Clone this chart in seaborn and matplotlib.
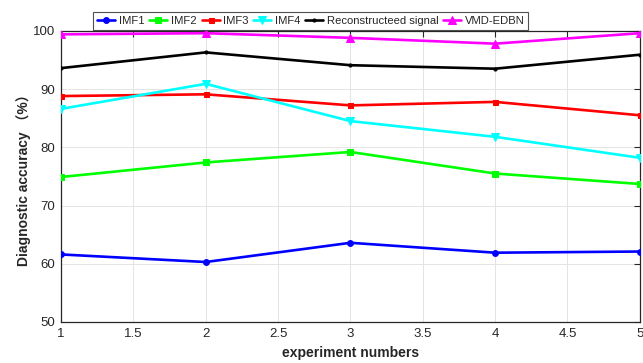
import matplotlib
matplotlib.use("Agg")
import matplotlib.pyplot as plt
from matplotlib.ticker import FormatStrFormatter, MultipleLocator
import numpy as np
import pandas as pd
import seaborn as sns

# Diagnostic accuracy (%) for each experiment run
experiments = [1, 2, 3, 4, 5]
imf1 = [61.6, 60.3, 63.6, 61.9, 62.1]
imf2 = [74.9, 77.4, 79.2, 75.5, 73.7]
imf3 = [88.8, 89.1, 87.2, 87.8, 85.5]
imf4 = [86.6, 90.9, 84.5, 81.8, 78.2]
reconstructed = [93.6, 96.3, 94.1, 93.5, 95.9]
vmd_edbn = [99.4, 99.6, 98.8, 97.8, 99.6]

series_names = ["IMF1", "IMF2", "IMF3", "IMF4", "Reconstructeed signal", "VMD-EDBN"]
series_values = [imf1, imf2, imf3, imf4, reconstructed, vmd_edbn]

colors = ["#0000ff", "#00ff00", "#ff0000", "#00ffff", "#000000", "#ff00ff"]
markers = ["o", "s", "s", "v", ".", "^"]
marker_sizes = [4.2, 4.2, 3.6, 6, 4.5, 6]

df = pd.DataFrame({
    "experiment": np.tile(experiments, len(series_names)),
    "accuracy": np.concatenate(series_values),
    "series": np.repeat(series_names, len(experiments)),
})

sns.set_theme(style="white")
plt.rcParams["font.family"] = ["Liberation Sans", "Noto Sans CJK SC", "DejaVu Sans"]

fig = plt.figure(figsize=(6.43, 3.63), dpi=100)
ax = fig.add_axes([0.095, 0.113, 0.9, 0.802])

for name, col, mk, ms in zip(series_names, colors, markers, marker_sizes):
    sub = df[df["series"] == name]
    sns.lineplot(data=sub, x="experiment", y="accuracy", ax=ax, color=col,
                 marker=mk, markersize=ms, markeredgecolor=col, linewidth=1.9,
                 label=name, zorder=3)

ax.set_xlim(1, 5)
ax.set_ylim(50, 100)
ax.xaxis.set_major_locator(MultipleLocator(0.5))
ax.yaxis.set_major_locator(MultipleLocator(10))
ax.xaxis.set_major_formatter(FormatStrFormatter("%g"))
ax.grid(True, color="#e4e4e4", linewidth=0.7, linestyle="-")
ax.set_axisbelow(True)

for sp in ax.spines.values():
    sp.set_color("#262626")
    sp.set_linewidth(0.9)
ax.tick_params(direction="in", top=True, right=True, length=4, width=0.8,
               colors="#262626", labelsize=9.5, pad=4)

ax.set_xlabel("experiment numbers", fontsize=10, fontweight="bold", color="#262626", labelpad=5)
ax.set_ylabel("Diagnostic accuracy （%）", fontsize=10, fontweight="bold", color="#262626", labelpad=2)

leg = ax.legend(loc="lower left", bbox_to_anchor=(0.056, 1.004), ncol=6, fontsize=8.1,
                frameon=True, fancybox=False, handlelength=1.6, handletextpad=0.3,
                columnspacing=0.45, borderpad=0.35, borderaxespad=0)
leg.get_frame().set_edgecolor("#262626")
leg.get_frame().set_linewidth(0.8)

fig.savefig("out.png", dpi=100)
